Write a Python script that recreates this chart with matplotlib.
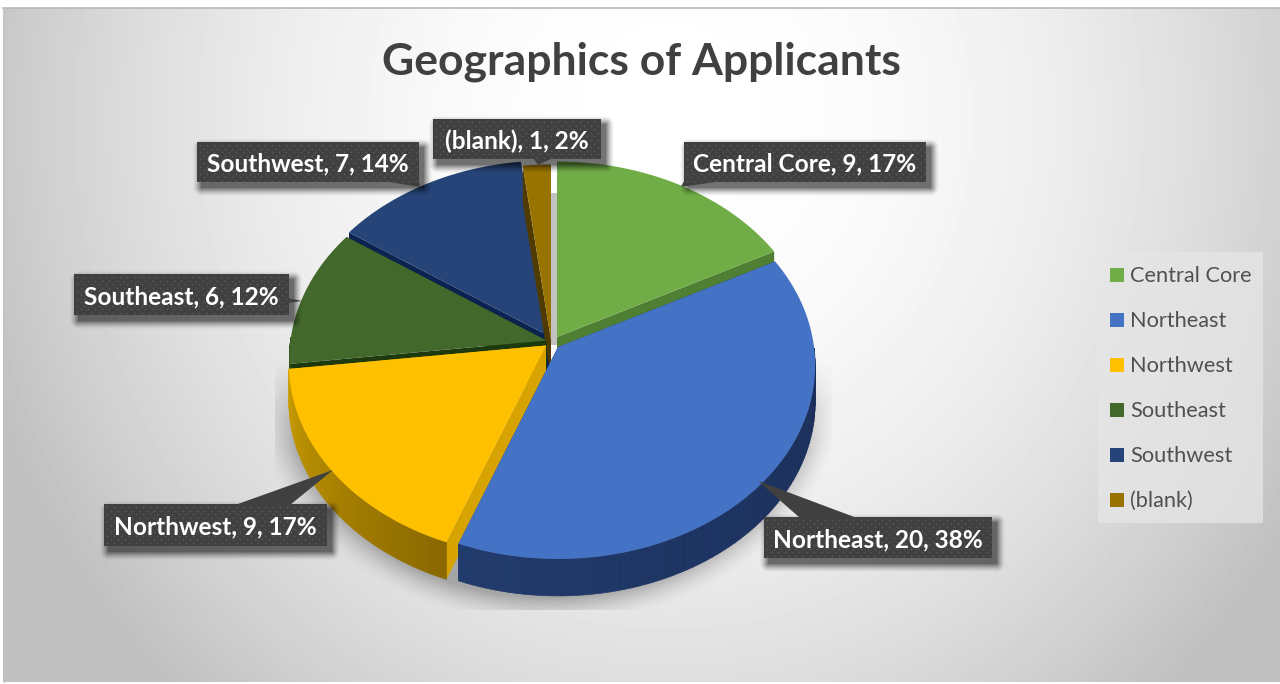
import numpy as np
import matplotlib
matplotlib.use('Agg')
import matplotlib.pyplot as plt
from matplotlib.patches import Polygon, Rectangle

plt.rcParams['font.family'] = ['Lato', 'DejaVu Sans']

# dados
regioes = ['Central Core', 'Northeast', 'Northwest', 'Southeast', 'Southwest', '(blank)']
valores = [9, 20, 9, 6, 7, 1]
percentuais = [17, 38, 17, 12, 14, 2]
titulo = 'Geographics of Applicants'

# estilo
cores_topo = ['#70ad47', '#4472c4', '#ffc000', '#43682b', '#264478', '#997300']
cores_lateral = ['#4f7f32', '#1f3864', '#d6a300', '#1c3a0e', '#0b2350', '#4f3b00']
cores_arco = [('#4f7f32', '#4f7f32'), ('#1a2d58', '#213b6c'), ('#8a6800', '#c99c00'),
              ('#2c4a1a', '#2c4a1a'), ('#14294f', '#14294f'), ('#5c4500', '#5c4500')]
centros = [(557, 337), (558, 347), (546, 345.5), (546.5, 340.5), (549, 336), (551, 340)]
ordem_desenho = [4, 5, 0, 3, 2, 1]
RX, RY, K, PROF = 256, 192, 0.094, 37

caixas = [(684, 142, 926, 182), (764, 517, 992, 558), (104, 504, 327, 546),
          (74, 274, 289, 315), (197, 142, 419, 182), (433, 119, 601, 159)]
pontas = [[(684, 181), (722, 181), (681, 187)],
          [(800, 518), (857, 518), (758, 481)],
          [(235, 505), (290, 505), (333, 470)],
          [(288, 298), (288, 303), (302, 301)],
          [(383, 181), (419, 181), (420, 187)],
          [(533, 158), (553, 158), (538, 165)]]


def projetar(theta, r, centro):
    u = r * np.sin(theta)
    v = r * np.cos(theta)
    s = 1 / (1 + K * v)
    return centro[0] + RX * u * s, centro[1] - RY * v * s


def mistura(c1, c2, t):
    a = np.array(matplotlib.colors.to_rgb(c1))
    b = np.array(matplotlib.colors.to_rgb(c2))
    return a + (b - a) * t


def fundo(ax):
    yy, xx = np.mgrid[8:682, 3:1280]
    d = np.hypot((xx - 670) / 650, (yy - 120) / 700)
    g = 1.0 - np.minimum(0.2 * d ** 2, 0.25)
    ax.imshow(g, extent=(3, 1280, 682, 8), cmap='gray', vmin=0, vmax=1,
              aspect='auto', zorder=0, interpolation='bilinear')
    ax.plot([3, 1280], [7.5, 7.5], color='#b8b8b8', lw=1.2, zorder=1)
    ax.plot([3.5, 3.5], [8, 682], color='#c4c4c4', lw=1, zorder=1)


def sombra_pizza(ax):
    yy, xx = np.mgrid[360:610, 275:832]
    d = (np.hypot((xx - 548) / 262, (yy - 385) / 212) - 1) * 240
    alfa = 0.38 * np.clip(1 - d / 32, 0, 1) ** 1.6 * np.clip((yy - 360) / 90, 0, 1)
    img = np.zeros(alfa.shape + (4,))
    img[..., :3] = 0.25
    img[..., 3] = alfa
    ax.imshow(img, extent=(275, 832, 610, 360), aspect='auto', zorder=2)
    # faixa cinza atras da fatia (blank)
    ax.add_patch(Polygon([(550, 193), (557, 193), (557, 345), (550, 345)],
                         fc='#c2c2c2', ec='none', zorder=2))


def desenhar_fatia(ax, i, ini, fim, z):
    centro = centros[i]
    th = np.linspace(ini, fim, 90)
    xs, ys = projetar(th, 1, centro)

    # paredes radiais
    for ang in (ini, fim):
        x, y = projetar(ang, 1, centro)
        ax.add_patch(Polygon([centro, (x, y), (x, y + PROF), (centro[0], centro[1] + PROF)],
                             fc=cores_lateral[i], ec='none', zorder=z))

    # parede externa, so a parte de frente
    frente = np.cos(th) < 0.02
    idx = np.where(frente)[0]
    for n, (a, b) in enumerate(zip(idx[:-1], idx[1:])):
        t = n / max(len(idx) - 2, 1)
        cor = mistura(cores_arco[i][0], cores_arco[i][1], t)
        ax.add_patch(Polygon([(xs[a], ys[a]), (xs[b], ys[b]),
                              (xs[b], ys[b] + PROF), (xs[a], ys[a] + PROF)],
                             fc=cor, ec=cor, lw=0.5, zorder=z))

    # topo
    pts = [centro] + list(zip(xs, ys))
    ax.add_patch(Polygon(pts, fc=cores_topo[i], ec='none', zorder=z + 0.5))


def sombra_caixa(ax, x0, y0, x1, y1):
    # sombra difusa deslocada para baixo e para a direita
    borda = 14
    yy, xx = np.mgrid[y0 - borda:y1 + borda + 6, x0 - borda:x1 + borda + 6]
    dx = np.maximum(np.maximum(x0 + 4 - xx, xx - (x1 + 4)), 0)
    dy = np.maximum(np.maximum(y0 + 5 - yy, yy - (y1 + 5)), 0)
    alfa = 0.55 * np.clip(1 - np.hypot(dx, dy) / 9, 0, 1) ** 1.5
    img = np.zeros(alfa.shape + (4,))
    img[..., 3] = alfa
    ax.imshow(img, extent=(x0 - borda, x1 + borda + 6, y1 + borda + 6, y0 - borda),
              aspect='auto', zorder=20)


def rotulo(ax, i):
    x0, y0, x1, y1 = caixas[i]
    sombra_caixa(ax, x0, y0, x1, y1)
    ax.add_patch(Polygon(pontas[i], fc='#404040', ec='none', zorder=21))
    ax.add_patch(Rectangle((x0, y0), x1 - x0, y1 - y0, fc='#404040', ec='none', zorder=21))

    # pontilhado do fundo
    gx, gy = [], []
    for lin, y in enumerate(np.arange(y0 + 3, y1, 3.6)):
        for x in np.arange(x0 + 3 + (lin % 2) * 3.6, x1 - 1, 7.2):
            gx.append(x)
            gy.append(y)
    ax.plot(gx, gy, 's', ms=1.1, mew=0, color='#5a5a5a', zorder=21.5)

    texto = f'{regioes[i]}, {valores[i]}, {percentuais[i]}%'
    ax.text((x0 + x1) / 2, (y0 + y1) / 2, texto, ha='center', va='center_baseline',
            fontsize=17.6, fontweight='bold', color='white', zorder=22)


def legenda(ax):
    ax.add_patch(Rectangle((1098, 252), 165, 271, fc='#e6e6e6', ec='none', alpha=0.75, zorder=5))
    for n, nome in enumerate(regioes):
        y = 275 + n * 45
        ax.add_patch(Rectangle((1110, y - 7), 14, 14, fc=cores_topo[n], ec='none', zorder=6))
        ax.text(1130, y - 1, nome, ha='left', va='center_baseline', fontsize=15.7,
                color='#505050', zorder=6)


def main():
    fig = plt.figure(figsize=(12.8, 6.84), dpi=100, facecolor='white')
    ax = fig.add_axes([0, 0, 1, 1])

    fundo(ax)
    sombra_pizza(ax)

    angulos = np.concatenate([[0], np.cumsum(valores)]) / np.sum(valores) * 2 * np.pi
    for z, i in enumerate(ordem_desenho):
        desenhar_fatia(ax, i, angulos[i], angulos[i + 1], 6 + z)

    for i in range(len(regioes)):
        rotulo(ax, i)
    legenda(ax)

    ax.text(641, 58, titulo, ha='center', va='center_baseline', fontsize=32,
            fontweight='bold', color='#404040', zorder=30)

    ax.set_xlim(0, 1280)
    ax.set_ylim(684, 0)
    ax.axis('off')
    fig.savefig('out.png', dpi=100, facecolor='white')
    plt.close(fig)


if __name__ == '__main__':
    main()
